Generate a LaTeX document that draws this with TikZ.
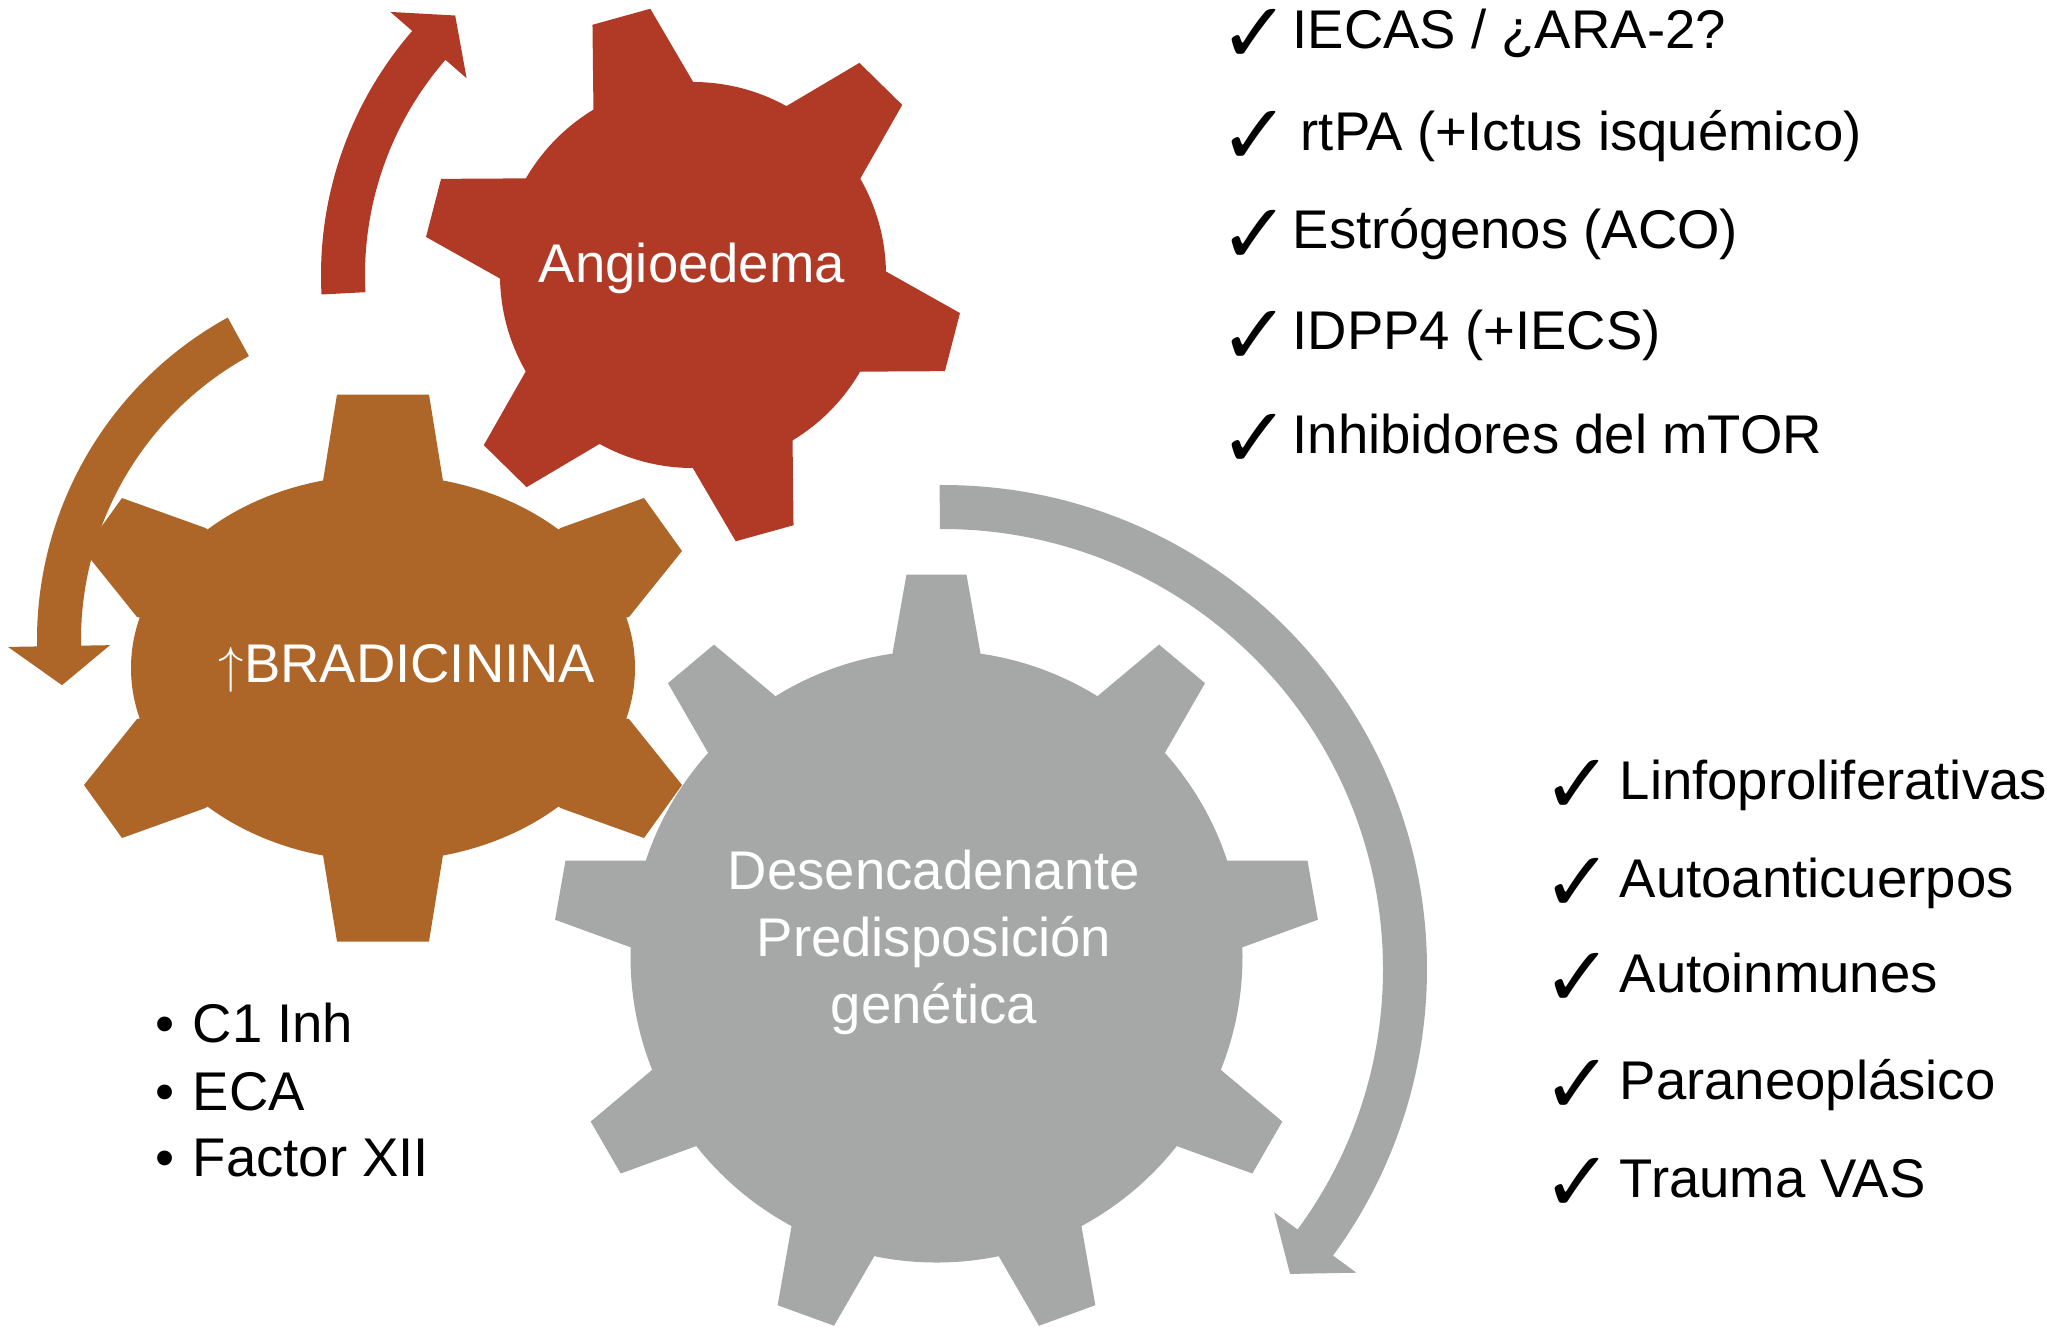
\documentclass[tikz,border=0pt]{standalone}
\usepackage{fontspec}
\setmainfont{Liberation Sans}
\newfontfamily\chkfont{DejaVu Sans}
\usetikzlibrary{calc}
\definecolor{redg}{HTML}{B03A26}
\definecolor{browng}{HTML}{AD6628}
\definecolor{grayg}{HTML}{A6A7A7}
\begin{document}
\begin{tikzpicture}[x=0.01cm,y=-0.01cm,
  lbl/.style={font=\fontsize{15.5}{19.06}\selectfont, inner sep=0pt},
  gearlbl/.style={lbl, text=white},
  itemlbl/.style={lbl, text=black, anchor=base west},
  chkmark/.style={font=\chkfont\fontsize{24}{24}\selectfont, inner sep=0pt, anchor=base west},
  bul/.style={lbl, text=black, anchor=base},
]
\fill[white] (0,0) rectangle (2047,1326);
\useasboundingbox (0,0) rectangle (2047,1326);

\coordinate (R) at (693,275);
\coordinate (B) at (383,668);
\coordinate (G) at (936.5,956.5);
\coordinate (RA) at (693,275);
\coordinate (BA) at (405,640);
\coordinate (GA) at (943,969);

% ---------- gray gear ----------
\fill[grayg] (G) circle[radius=306];
\foreach \a in {-90,-50,-10,30,70,110,150,190,230}
  \fill[grayg] (G) -- ($(G)+(\a:303)+(\a+90:44)$) -- ($(G)+(\a:382)+(\a+90:30)$)
     -- ($(G)+(\a:382)+(\a-90:30)$) -- ($(G)+(\a:303)+(\a-90:44)$) -- cycle;

% ---------- brown gear ----------
\fill[browng] (B) ellipse[x radius=252, y radius=193];
\fill[browng] (B) -- (323,481) -- (337,394.5) -- (429,394.5) -- (443,481) -- cycle;
\fill[browng] (B) -- (323,855) -- (337,941.5) -- (429,941.5) -- (443,855) -- cycle;
\fill[browng] (B) -- (560.5,528) -- (644,498) -- (682,551) -- (629,617) -- cycle;
\fill[browng] (B) -- (205.5,528) -- (122,498) -- (84,551) -- (137,617) -- cycle;
\fill[browng] (B) -- (560.5,808) -- (644,838) -- (682,785) -- (629,719) -- cycle;
\fill[browng] (B) -- (205.5,808) -- (122,838) -- (84,785) -- (137,719) -- cycle;

% ---------- red gear ----------
\fill[redg] (R) circle[radius=193];
\foreach \a in {-105.5,-45.5,14.5,74.5,134.5,194.5}
  \fill[redg] (R) -- ($(R)+(\a:185)+(\a+90:52)$) -- ($(R)+(\a:268)+(\a+90:30)$)
     -- ($(R)+(\a:268)+(\a-90:30)$) -- ($(R)+(\a:185)+(\a-90:52)$) -- cycle;

% ---------- curved arrows ----------
\fill[redg] ($(RA)+(177:372)$) arc[start angle=177, end angle=221, radius=372]
  -- ($(RA)+(221:401)$) -- ($(RA)+(227.5:352)$) -- ($(RA)+(221:300)$)
  -- ($(RA)+(221:328)$) arc[start angle=221, end angle=177, radius=328] -- cycle;

\fill[browng] ($(BA)+(241.2:368)$) arc[start angle=241.2, end angle=179, radius=368]
  -- ($(BA)+(179:397)$) -- ($(BA)+(172.5:346)$) -- ($(BA)+(179:295)$)
  -- ($(BA)+(179:324)$) arc[start angle=179, end angle=241.2, radius=324] -- cycle;

\fill[grayg] ($(GA)+(-90.4:484)$) arc[start angle=-90.4, end angle=36.3, radius=484]
  -- ($(GA)+(36.3:513)$) -- ($(GA)+(41.3:462)$) -- ($(GA)+(36.3:411)$)
  -- ($(GA)+(36.3:440)$) arc[start angle=36.3, end angle=-90.4, radius=440] -- cycle;

% ---------- gear labels ----------
\node[gearlbl] (angio) at (692,268) {Angioedema};
\node[gearlbl] (brad) at (407,668) {$\uparrow$BRADICININA};
\node[gearlbl, align=center] (desenc) at (934,942) {Desencadenante\\Predisposición\\genética};

% ---------- bullet list ----------
\node[bul] (b1) at (165,1042) {•};
\node[bul] (b2) at (165,1110) {•};
\node[bul] (b3) at (165,1176) {•};
\node[itemlbl] (i1) at (192,1042) {C1 Inh};
\node[itemlbl] (i2) at (192,1110) {ECA};
\node[itemlbl] (i3) at (192,1176) {Factor XII};

% ---------- upper check list ----------
\node[chkmark] (c1) at (1219,62) {✓};
\node[chkmark] (c2) at (1219,164) {✓};
\node[chkmark] (c3) at (1219,263) {✓};
\node[chkmark] (c4) at (1219,364) {✓};
\node[chkmark] (c5) at (1219,467) {✓};
\node[itemlbl] (t1) at (1292,48) {IECAS / ¿ARA-2?};
\node[itemlbl] (t2) at (1300,150) {rtPA (+Ictus isquémico)};
\node[itemlbl] (t3) at (1292,248) {Estrógenos (ACO)};
\node[itemlbl] (t4) at (1292,349) {IDPP4 (+IECS)};
\node[itemlbl] (t5) at (1292,453) {Inhibidores del mTOR};

% ---------- lower check list ----------
\node[chkmark] (d1) at (1542,813) {✓};
\node[chkmark] (d2) at (1542,911) {✓};
\node[chkmark] (d3) at (1542,1006) {✓};
\node[chkmark] (d4) at (1542,1113) {✓};
\node[chkmark] (d5) at (1542,1211) {✓};
\node[itemlbl] (u1) at (1619,799) {Linfoproliferativas};
\node[itemlbl] (u2) at (1619,897) {Autoanticuerpos};
\node[itemlbl] (u3) at (1619,992) {Autoinmunes};
\node[itemlbl] (u4) at (1619,1099) {Paraneoplásico};
\node[itemlbl] (u5) at (1619,1197) {Trauma VAS};
\end{tikzpicture}
\end{document}
